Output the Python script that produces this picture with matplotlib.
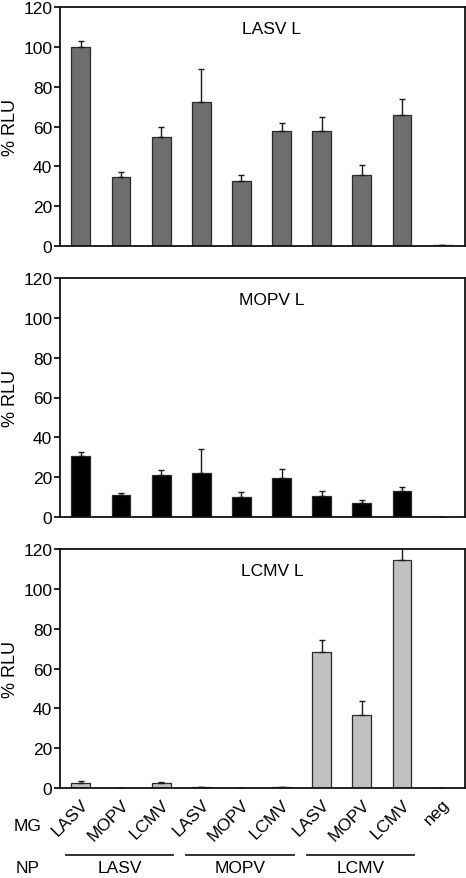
import matplotlib
matplotlib.use("Agg")
import matplotlib.pyplot as plt
import matplotlib.transforms as mtransforms
import numpy as np

plt.rcParams['font.family'] = ['Liberation Sans', 'DejaVu Sans']

mg_labels = ["LASV", "MOPV", "LCMV", "LASV", "MOPV", "LCMV", "LASV", "MOPV", "LCMV", "neg"]
np_groups = ["LASV", "MOPV", "LCMV"]
panel_titles = ["LASV L", "MOPV L", "LCMV L"]

lasv_vals = [100, 34.5, 54.5, 72.5, 32.5, 57.5, 57.5, 35.5, 66, 0.3]
lasv_err = [3, 2.5, 5.5, 16.5, 3, 4.5, 7.5, 5, 8, 0]
mopv_vals = [30.5, 11, 21, 22, 10, 19.5, 10.5, 7, 13, 0]
mopv_err = [2, 1, 2.5, 12, 2.5, 4.5, 2.5, 1.5, 2, 0]
lcmv_vals = [2.5, 0.2, 2.5, 0.5, 0.1, 0.5, 68.5, 36.5, 114.5, 0]
lcmv_err = [1, 0, 0.7, 0, 0, 0, 6, 7, 6, 0]

colors = ["#6e6e6e", "#000000", "#c0c0c0"]
vals = [lasv_vals, mopv_vals, lcmv_vals]
errs = [lasv_err, mopv_err, lcmv_err]

FS = 12.5

fig = plt.figure(figsize=(4.66, 8.79), dpi=100)
W, H = 466, 879
left = 60 / W
right = 465 / W
tops = [8, 279, 550]
hpx = 239

x = np.arange(len(mg_labels))
axes = []
for k in range(3):
    bottom = 1 - (tops[k] + hpx) / H
    ax = fig.add_axes([left, bottom, right - left, hpx / H])
    axes.append(ax)
    v = vals[k]
    e = errs[k]
    ax.bar(x, v, width=0.47, color=colors[k], edgecolor="#2a2a2a", linewidth=0.9, zorder=2)
    ax.errorbar(x, v, yerr=[np.zeros(len(v)), e], fmt='none', ecolor="#1a1a1a",
                elinewidth=1.0, capsize=2.2, capthick=1.0, zorder=3)
    ax.set_xlim(-0.52, 9.57)
    ax.set_ylim(0, 120)
    ax.set_yticks(np.arange(0, 121, 20))
    ax.tick_params(axis='y', direction='out', length=4, width=1.2, labelsize=FS, pad=1.5)
    ax.set_ylabel("% RLU", fontsize=FS + 0.5, labelpad=3)
    for s in ax.spines.values():
        s.set_linewidth(1.3)
        s.set_color("#111111")
    ax.text(0.523, 0.91, panel_titles[k], transform=ax.transAxes, ha='center', va='center', fontsize=FS)
    if k < 2:
        ax.set_xticks([])
    else:
        ax.set_xticks(x)
        ax.set_xticklabels(mg_labels, rotation=45, ha='right', rotation_mode='anchor', fontsize=FS)
        ax.tick_params(axis='x', length=0, pad=6)

ax3 = axes[2]
trans = mtransforms.blended_transform_factory(ax3.transData, ax3.transAxes)
for gi, name in enumerate(np_groups):
    s = gi * 3
    ax3.plot([s - 0.37, s + 2.3], [-0.28, -0.28], transform=trans, color="#222222",
             lw=1.3, clip_on=False)
    ax3.text(s + 0.97, 1 - 869 / H, name, transform=mtransforms.blended_transform_factory(ax3.transData, fig.transFigure),
             ha='center', va='center', fontsize=FS)

fig.text(28 / W, 1 - 827 / H, "MG", ha='center', va='center', fontsize=FS)
fig.text(28 / W, 1 - 869 / H, "NP", ha='center', va='center', fontsize=FS)

fig.savefig("out.png", dpi=100)
